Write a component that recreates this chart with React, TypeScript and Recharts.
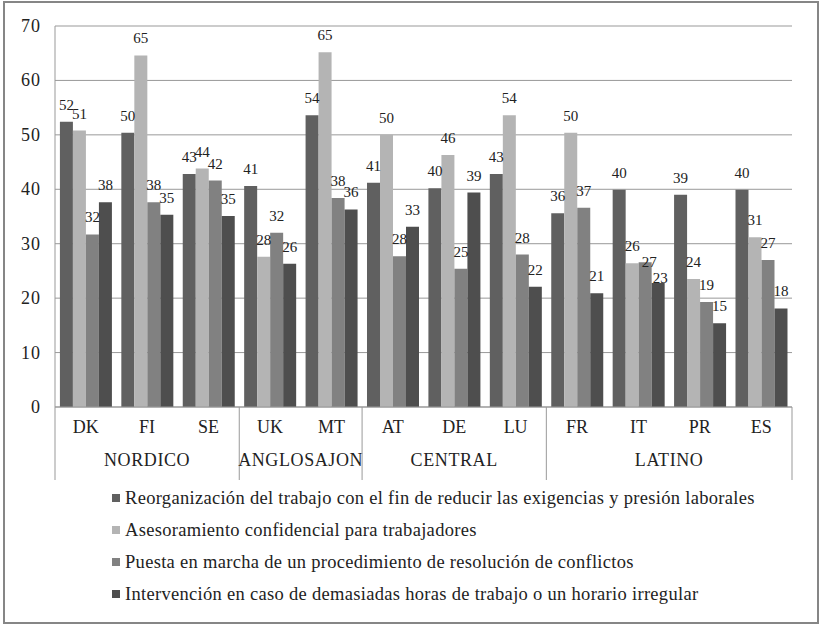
import React from 'react';
import { BarChart, Bar, XAxis, YAxis, CartesianGrid, LabelList, Legend } from 'recharts';

const countries = ['DK', 'FI', 'SE', 'UK', 'MT', 'AT', 'DE', 'LU', 'FR', 'IT', 'PR', 'ES'];
const regions = ['NORDICO', 'NORDICO', 'NORDICO', 'ANGLOSAJON', 'ANGLOSAJON', 'CENTRAL', 'CENTRAL', 'CENTRAL', 'LATINO', 'LATINO', 'LATINO', 'LATINO'];
const reorganizacion = [52.4, 50.4, 42.8, 40.6, 53.6, 41.2, 40.2, 42.8, 35.6, 39.9, 39.0, 39.9];
const asesoramiento = [50.8, 64.6, 43.8, 27.6, 65.2, 50.0, 46.3, 53.6, 50.4, 26.4, 23.5, 31.2];
const puestaEnMarcha = [31.7, 37.6, 41.6, 32.0, 38.4, 27.7, 25.4, 28.0, 36.6, 26.6, 19.3, 27.0];
const intervencion = [37.6, 35.3, 35.1, 26.3, 36.3, 33.1, 39.4, 22.1, 20.9, 22.8, 15.4, 18.1];
const yTicks = [0, 10, 20, 30, 40, 50, 60, 70];

const seriesNames = [
  'Reorganización del trabajo con el fin de reducir las exigencias y presión laborales',
  'Asesoramiento confidencial para trabajadores',
  'Puesta en marcha de un procedimiento de resolución de conflictos',
  'Intervención en caso de demasiadas horas de trabajo o un horario irregular',
];
const seriesValues = [reorganizacion, asesoramiento, puestaEnMarcha, intervencion];
const seriesKeys = ['s1', 's2', 's3', 's4'];
const seriesColors = ['#606060', '#b4b4b4', '#818181', '#4e4e4e'];

const data = countries.map((c, i) => ({
  country: c,
  region: regions[i],
  s1: reorganizacion[i],
  s2: asesoramiento[i],
  s3: puestaEnMarcha[i],
  s4: intervencion[i],
}));

const W = 820;
const H = 625;
const MARGIN = { top: 26, right: 28, left: 0, bottom: 145 };
const Y_AXIS_W = 55;
const X_AXIS_H = 73;
const Y_MAX = 70;
const STEP = (W - MARGIN.left - MARGIN.right - Y_AXIS_W) / countries.length;
const PX_PER_UNIT = (H - MARGIN.top - MARGIN.bottom - X_AXIS_H) / Y_MAX;
const LABEL_GAP = 17;
const FONT = 'Liberation Serif';
const LINE = '#999999';

const CountryTick = (props: any) => {
  const { x, y, payload } = props;
  const i = payload.index;
  const g = regions[i];
  let s = i;
  while (s > 0 && regions[s - 1] === g) s--;
  let e = i;
  while (e < regions.length - 1 && regions[e + 1] === g) e++;
  return (
    <g>
      <text x={x} y={y + 20} textAnchor="middle" dominantBaseline="central" style={{ fontFamily: FONT, fontSize: 18 }} fill="#222">
        {payload.value}
      </text>
      {i === s && (
        <>
          <line x1={x - STEP / 2} x2={x - STEP / 2} y1={y} y2={y + X_AXIS_H} stroke={LINE} />
          <text x={x + ((e - s) * STEP) / 2} y={y + 53} textAnchor="middle" dominantBaseline="central" style={{ fontFamily: FONT, fontSize: 18, letterSpacing: 0.6 }} fill="#222">
            {g}
          </text>
        </>
      )}
      {i === regions.length - 1 && (
        <line x1={x + STEP / 2} x2={x + STEP / 2} y1={y} y2={y + X_AXIS_H} stroke={LINE} />
      )}
    </g>
  );
};

const YTick = (props: any) => {
  const { x, y, payload } = props;
  return (
    <text x={x} y={y} textAnchor="end" dominantBaseline="central" style={{ fontFamily: FONT, fontSize: 18, letterSpacing: 1 }} fill="#222">
      {payload.value}
    </text>
  );
};

// Label placement in a category: normally centred above the bar; when a label
// would collide with the previous series' label, push it down and to the right.
type Place = { dx: number; y: number; shifted: boolean };
const placeLabel = (si: number, idx: number): Place => {
  const v = seriesValues[si][idx];
  const natural = -v * PX_PER_UNIT - LABEL_GAP;
  if (si === 0) return { dx: 0, y: natural, shifted: false };
  const p = placeLabel(si - 1, idx);
  const pv = seriesValues[si - 1][idx];
  if (Math.abs(pv - v) < 1) return { dx: 4, y: p.y + 16, shifted: true };
  if (p.shifted && Math.abs(natural - p.y) < 13) return { dx: 2, y: p.y + 16, shifted: true };
  return { dx: 0, y: natural, shifted: false };
};

const makeLabel = (si: number) => (props: any) => {
  const { x, y, width, value, index } = props;
  const v = seriesValues[si][index];
  const pl = placeLabel(si, index);
  const natural = -v * PX_PER_UNIT - LABEL_GAP;
  const cx = Number(x) + Number(width) / 2 + pl.dx;
  const cy = Number(y) - LABEL_GAP + (pl.y - natural);
  return (
    <text x={cx} y={cy} textAnchor="middle" dominantBaseline="central" style={{ fontFamily: FONT, fontSize: 15 }} fill="#222">
      {Math.round(Number(value))}
    </text>
  );
};

const LegendContent = () => (
  <div style={{ fontFamily: FONT, fontSize: 18.5, letterSpacing: 0.3, color: '#222' }}>
    {seriesNames.map((n, i) => (
      <div key={n} style={{ display: 'flex', alignItems: 'center', height: 32 }}>
        <div style={{ width: 8, height: 8, background: seriesColors[i], marginRight: 5, flex: 'none' }} />
        <span style={{ whiteSpace: 'nowrap', fontFamily: FONT }}>{n}</span>
      </div>
    ))}
  </div>
);

export default function App() {
  return (
    <div style={{ position: 'absolute', left: 0, top: 0, width: W, height: H, background: '#fff', fontFamily: FONT }}>
      <div style={{ position: 'absolute', left: 3, top: 1, width: 816, height: 623, border: '2px solid #868686', boxSizing: 'border-box' }} />
      <div style={{ position: 'absolute', left: 0, top: 0 }}>
        <BarChart width={W} height={H} data={data} margin={MARGIN} barCategoryGap="8%" barGap={0}>
          <CartesianGrid vertical={false} stroke={LINE} />
          <XAxis
            dataKey="country"
            height={X_AXIS_H}
            tick={<CountryTick />}
            tickLine={false}
            tickSize={0}
            tickMargin={0}
            axisLine={{ stroke: LINE }}
            interval={0}
          />
          <YAxis
            width={Y_AXIS_W}
            domain={[0, Y_MAX]}
            ticks={yTicks}
            tickLine={false}
            tickSize={0}
            tickMargin={14}
            axisLine={{ stroke: LINE }}
            tick={<YTick />}
          />
          <Legend
            layout="horizontal"
            verticalAlign="middle"
            align="center"
            wrapperStyle={{ left: 112, top: 482, width: 700 }}
            content={<LegendContent />}
          />
          {seriesKeys.map((k, i) => (
            <Bar key={k} dataKey={k} name={seriesNames[i]} fill={seriesColors[i]} isAnimationActive={false}>
              <LabelList dataKey={k} content={makeLabel(i)} />
            </Bar>
          ))}
        </BarChart>
      </div>
    </div>
  );
}
